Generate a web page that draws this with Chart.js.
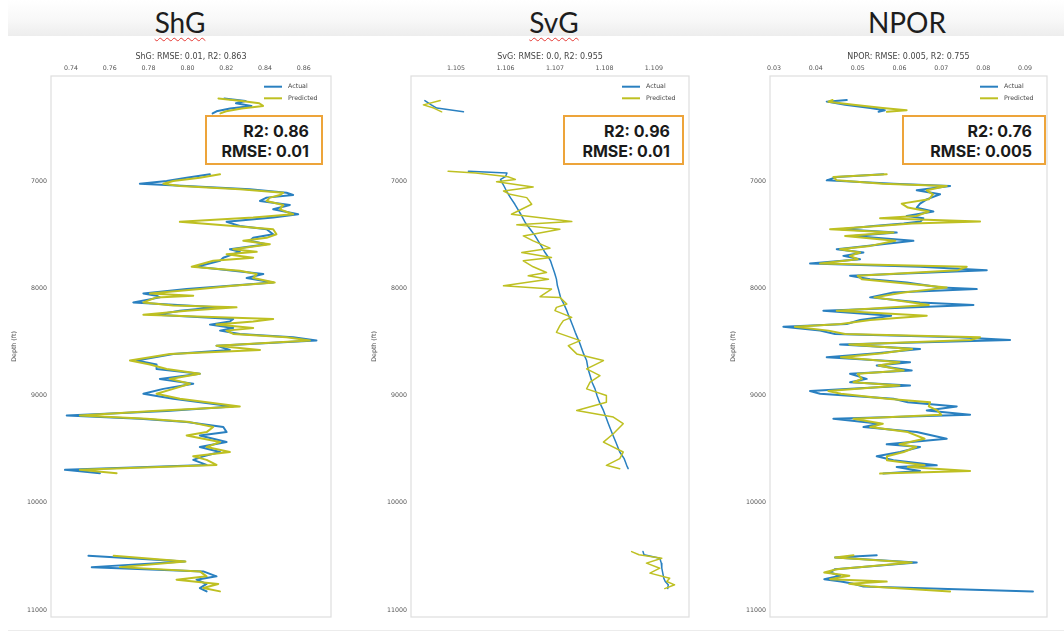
<!DOCTYPE html>
<html>
<head>
<meta charset="utf-8">
<title>ShG / SvG / NPOR – actual vs predicted</title>
<script src="https://cdn.jsdelivr.net/npm/chart.js@4.4.1/dist/chart.umd.min.js"></script>
<style>
  html, body { margin: 0; padding: 0; background: #fff; }
  body { width: 1064px; height: 632px; position: relative; overflow: hidden; font-family: 'DejaVu Sans', sans-serif; }
  .band { position: absolute; left: 8px; top: 0; width: 1056px; height: 36px;
          background: linear-gradient(#ffffff 0%, #f8f8f8 55%, #ededed 100%); }
  .head { position: absolute; top: 5px; font-family: Lato, 'Open Sans', sans-serif; font-size: 28px;
          line-height: 34px; color: #1d1d1d; transform: translateX(-50%); white-space: nowrap; }
  .wavy { text-decoration: underline wavy #e53935; text-decoration-thickness: 1px; text-underline-offset: 4px; }
  canvas { position: absolute; top: 40px; }
  .score { position: absolute; top: 115px; height: 50px; box-sizing: border-box; border: 2px solid #eda43a;
           background: #fff; padding: 4px 12px 0 0; text-align: right; font-family: Inter, sans-serif;
           font-weight: 700; font-size: 16px; line-height: 20px; color: #1a1a1a; }
  .foot { position: absolute; left: 8px; top: 630px; width: 1056px; height: 1px; background: #ececec; }
</style>
</head>
<body>
<div class="band"></div>
<div class="head" style="left:180px"><span class="wavy">ShG</span></div>
<div class="head" style="left:554px"><span class="wavy">SvG</span></div>
<div class="head" style="left:907px">NPOR</div>

<canvas id="shg" width="345" height="592" style="left:0px"></canvas>
<canvas id="svg" width="345" height="592" style="left:360px"></canvas>
<canvas id="npor" width="345" height="592" style="left:719px"></canvas>

<div class="score" style="left:205px;width:118px">R2: 0.86<br>RMSE: 0.01</div>
<div class="score" style="left:563px;width:121px">R2: 0.96<br>RMSE: 0.01</div>
<div class="score" style="left:902px;width:144px">R2: 0.76<br>RMSE: 0.005</div>
<div class="foot"></div>

<script>
// ---- ShG (shear gradient) log, depth in ft; null marks a gap in the log ----
const shgDepth = [
  6230, 6255, 6275, 6300, 6325, 6350, 6370, 6600,
  6938, 6969, 7000, 7025, 7047, 7078, 7109, 7130, 7155, 7186,
  7223, 7264, 7310, 7341, 7381, 7419, 7450, 7496, 7530, 7558,
  7589, 7636, 7660, 7682, 7715, 7744, 7800, 7837, 7868, 7905,
  7946, 7977, 8008, 8048, 8070, 8085, 8132, 8160, 8178, 8209,
  8246, 8287, 8310, 8339, 8370, 8395, 8426, 8457, 8488, 8535,
  8575, 8612, 8674, 8711, 8752, 8798, 8845, 8891, 8938, 8984,
  9031, 9102, 9145, 9186, 9217, 9248, 9294, 9341, 9372, 9434,
  9480, 9527, 9567, 9600, 9647, 9693, 9724, 10100,
  10495, 10548, 10600, 10640, 10686, 10717, 10757, 10795, 10826
];
const shgActual = [
  0.8190, 0.8300, 0.8250, 0.8330, 0.8220, 0.8150, 0.8130, null,
  0.8116, 0.7996, 0.7893, 0.7755, 0.7996, 0.8322, 0.8511, 0.8545, 0.8408, 0.8374,
  0.8528, 0.8442, 0.8571, 0.8442, 0.8202, 0.8270, 0.8408, 0.8442, 0.8339, 0.8322,
  0.8408, 0.8219, 0.8270, 0.8236, 0.8185, 0.8168, 0.8047, 0.8236, 0.8391, 0.8305,
  0.8442, 0.8219, 0.7996, 0.7773, 0.7841, 0.7858, 0.7721, 0.7996, 0.8150, 0.7961,
  0.7841, 0.8236, 0.8219, 0.8116, 0.8236, 0.8168, 0.8270, 0.8545, 0.8665, 0.8150,
  0.8219, 0.7927, 0.7738, 0.7841, 0.7841, 0.8064, 0.7858, 0.8030, 0.7876, 0.7773,
  0.7927, 0.8236, 0.7893, 0.7378, 0.7755, 0.7996, 0.8185, 0.8202, 0.8064, 0.8202,
  0.8064, 0.8168, 0.8082, 0.8030, 0.8099, 0.7369, 0.7549, null,
  0.7490, 0.7987, 0.7507, 0.8082, 0.8150, 0.8047, 0.8099, 0.8064, 0.8099
];
const shgPredicted = [
  0.8160, 0.8280, 0.8370, 0.8390, 0.8280, 0.8200, 0.8170, null,
  0.8168, 0.8064, 0.7927, 0.7876, 0.7961, 0.8270, 0.8494, 0.8477, 0.8425, 0.8408,
  0.8494, 0.8477, 0.8545, 0.8339, 0.7961, 0.8236, 0.8442, 0.8459, 0.8408, 0.8288,
  0.8425, 0.8236, 0.8357, 0.8202, 0.8339, 0.8133, 0.8022, 0.8270, 0.8357, 0.8339,
  0.8450, 0.8236, 0.8064, 0.7807, 0.8030, 0.7841, 0.7773, 0.7927, 0.8253, 0.7996,
  0.7773, 0.8442, 0.8339, 0.8150, 0.8339, 0.8202, 0.8236, 0.8511, 0.8631, 0.8150,
  0.8374, 0.7910, 0.7704, 0.7807, 0.7893, 0.8064, 0.7910, 0.8013, 0.7927, 0.7841,
  0.7961, 0.8270, 0.7824, 0.7446, 0.7790, 0.8013, 0.8133, 0.8099, 0.7996, 0.8168,
  0.8099, 0.8219, 0.8030, 0.8099, 0.8150, 0.7446, 0.7635, null,
  0.7620, 0.7990, 0.7652, 0.8064, 0.8099, 0.7944, 0.8159, 0.8082, 0.8168
];

// ---- SvG (vertical stress gradient) log ----
const svgDepth = [
  6250, 6290, 6320, 6355, 6600,
  6910, 6925, 6960, 6985, 7006, 7056, 7093, 7124, 7155, 7217,
  7310, 7378, 7409, 7450, 7512, 7558, 7626, 7667, 7713, 7744,
  7800, 7853, 7884, 7915, 7977, 8008, 8079, 8085, 8147, 8178,
  8209, 8271, 8302, 8349, 8411, 8488, 8535, 8612, 8674, 8752,
  8814, 8876, 8938, 9000, 9062, 9139, 9201, 9263, 9356, 9434,
  9527, 9589, 9651, 9682, 10100,
  10455, 10485, 10517, 10563, 10610, 10656, 10703, 10734, 10765, 10800
];
const svgActual = [
  1.10437, 1.10450, 1.10461, 1.10515, null,
  1.10525, 1.10603, 1.10600, 1.10590, 1.10592, 1.10598, 1.10602, 1.10606, 1.10610, 1.10619,
  1.10631, 1.10639, 1.10643, 1.10650, 1.10660, 1.10666, 1.10675, 1.10680, 1.10687, 1.10691,
  1.10695, 1.10699, 1.10701, 1.10703, 1.10705, 1.10707, 1.10711, 1.10711, 1.10718, 1.10721,
  1.10724, 1.10729, 1.10732, 1.10736, 1.10741, 1.10748, 1.10752, 1.10758, 1.10764, 1.10767,
  1.10771, 1.10775, 1.10781, 1.10785, 1.10790, 1.10798, 1.10803, 1.10808, 1.10816, 1.10823,
  1.10831, 1.10840, 1.10845, 1.10848, null,
  1.10878, 1.10880, 1.10912, 1.10915, 1.10916, 1.10918, 1.10920, 1.10923, 1.10929, 1.10928
];
const svgPredicted = [
  1.10468, 1.10434, 1.10455, 1.10471, null,
  1.10484, 1.10540, 1.10605, 1.10620, 1.10582, 1.10656, 1.10596, 1.10609, 1.10643, 1.10653,
  1.10612, 1.10734, 1.10623, 1.10710, 1.10636, 1.10656, 1.10690, 1.10633, 1.10693, 1.10636,
  1.10656, 1.10683, 1.10646, 1.10687, 1.10596, 1.10693, 1.10670, 1.10710, 1.10724, 1.10703,
  1.10700, 1.10734, 1.10717, 1.10710, 1.10703, 1.10751, 1.10727, 1.10744, 1.10798, 1.10764,
  1.10791, 1.10771, 1.10764, 1.10804, 1.10804, 1.10744, 1.10818, 1.10838, 1.10818, 1.10798,
  1.10838, 1.10831, 1.10804, 1.10831, null,
  1.10855, 1.10870, 1.10916, 1.10885, 1.10912, 1.10892, 1.10932, 1.10926, 1.10942, 1.10922
];

// ---- NPOR (neutron porosity) log ----
const nporDepth = [
  6245, 6260, 6290, 6320, 6340, 6355, 6600,
  6938, 6963, 6994, 7025, 7047, 7087, 7124, 7171, 7211, 7248,
  7285, 7326, 7347, 7378, 7397, 7419, 7450, 7481, 7512, 7558,
  7605, 7636, 7667, 7698, 7729, 7769, 7800, 7831, 7884, 7915,
  7946, 7992, 8008, 8039, 8085, 8132, 8156, 8209, 8256, 8296,
  8333, 8358, 8395, 8426, 8457, 8482, 8525, 8566, 8606, 8643,
  8690, 8721, 8767, 8798, 8845, 8876, 8907, 8959, 8984, 9031,
  9062, 9102, 9139, 9179, 9217, 9263, 9294, 9341, 9403, 9455,
  9480, 9527, 9567, 9604, 9651, 9666, 9703, 9728, 10100,
  10490, 10510, 10557, 10619, 10650, 10681, 10712, 10735, 10756, 10780, 10827
];
const nporActual = [
  0.04740, 0.04260, 0.04700, 0.05300, 0.05650, 0.05500, null,
  0.05615, 0.04500, 0.04260, 0.05854, 0.07209, 0.06412, 0.06970, 0.06651, 0.06491, 0.06412,
  0.06810, 0.06173, 0.06570, 0.06500, 0.06100, 0.05376, 0.04600, 0.05933, 0.04897, 0.06332,
  0.05216, 0.04499, 0.05137, 0.04658, 0.05057, 0.03861, 0.06491, 0.08086, 0.04818, 0.05296,
  0.06173, 0.07000, 0.07846, 0.05854, 0.05296, 0.06491, 0.07767, 0.04180, 0.05800, 0.05057,
  0.04738, 0.03224, 0.04101, 0.04459, 0.07400, 0.08643, 0.04579, 0.06491, 0.05455, 0.04260,
  0.06252, 0.05455, 0.06292, 0.04818, 0.05216, 0.04818, 0.06252, 0.03861, 0.04101, 0.05854,
  0.06200, 0.07368, 0.06651, 0.07687, 0.04419, 0.05535, 0.05137, 0.06412, 0.07129, 0.05694,
  0.06491, 0.06013, 0.05455, 0.05854, 0.06890, 0.05933, 0.06491, 0.05615, null,
  0.05455, 0.04459, 0.06412, 0.04459, 0.04340, 0.04579, 0.04200, 0.04600, 0.04897, 0.05137, 0.09190
];
const nporPredicted = [
  0.04400, 0.04300, 0.04900, 0.05600, 0.06170, 0.05700, null,
  0.05694, 0.04419, 0.04500, 0.05600, 0.07129, 0.06650, 0.06800, 0.06700, 0.06053, 0.06200,
  0.06700, 0.06400, 0.05535, 0.07926, 0.06300, 0.05500, 0.04340, 0.05854, 0.04700, 0.05900,
  0.05300, 0.04579, 0.05057, 0.04818, 0.05000, 0.04100, 0.07607, 0.07400, 0.05000, 0.05100,
  0.05900, 0.07129, 0.06800, 0.06100, 0.05400, 0.06300, 0.06700, 0.04500, 0.06651, 0.05300,
  0.04600, 0.03500, 0.04300, 0.04700, 0.07926, 0.07700, 0.04800, 0.06300, 0.05600, 0.04600,
  0.06000, 0.05500, 0.06100, 0.05000, 0.05100, 0.04900, 0.06000, 0.04300, 0.04600, 0.05700,
  0.06731, 0.06700, 0.06900, 0.07000, 0.04900, 0.05600, 0.05300, 0.06200, 0.06600, 0.06000,
  0.06400, 0.06100, 0.05700, 0.05700, 0.06600, 0.06200, 0.07687, 0.05535, null,
  0.04900, 0.04459, 0.06292, 0.04500, 0.04200, 0.04800, 0.04340, 0.05694, 0.04800, 0.05300, 0.07209
];

// Depth axis (shared by all three tracks)
const depthTicks = [7000, 8000, 9000, 10000, 11000];
const seriesNames = ['Actual', 'Predicted'];

const BLUE = '#2a80c0';
const OLIVE = '#bec022';

Chart.defaults.font.family = "'DejaVu Sans', sans-serif";

// Light frame around the plot area plus a small key in its upper-right corner
const frameAndKey = {
  id: 'frameAndKey',
  afterDatasetsDraw(chart) {
    const { ctx, chartArea: a } = chart;
    ctx.save();
    ctx.strokeStyle = '#dedede';
    ctx.lineWidth = 1.2;
    ctx.strokeRect(a.left, a.top, a.right - a.left, a.bottom - a.top);
    ctx.font = "6.3px 'DejaVu Sans'";
    ctx.textBaseline = 'middle';
    chart.data.datasets.forEach((ds, i) => {
      const y = a.top + 10.7 + i * 11.6;
      ctx.strokeStyle = ds.borderColor;
      ctx.lineWidth = 2;
      ctx.beginPath();
      ctx.moveTo(a.right - 67, y);
      ctx.lineTo(a.right - 49, y);
      ctx.stroke();
      ctx.fillStyle = '#444';
      ctx.fillText(ds.label, a.right - 43, y);
    });
    ctx.restore();
  }
};

function points(depths, values) {
  return depths.map((d, i) => ({ x: values[i], y: d }));
}

function drawTrack(id, t) {
  const line = {
    showLine: true, pointRadius: 0, pointHoverRadius: 0, spanGaps: false,
    borderJoinStyle: 'round', borderCapStyle: 'round', borderWidth: t.width
  };
  new Chart(document.getElementById(id), {
    type: 'scatter',
    data: {
      datasets: [
        Object.assign({ label: seriesNames[0], data: points(t.depth, t.actual),
          borderColor: BLUE, backgroundColor: BLUE, order: 1 }, line),
        Object.assign({ label: seriesNames[1], data: points(t.depth, t.predicted),
          borderColor: OLIVE, backgroundColor: OLIVE, order: 0 }, line)
      ]
    },
    options: {
      responsive: false,
      animation: false,
      events: [],
      layout: { padding: { left: 0, top: 0, right: t.padRight, bottom: 15 } },
      plugins: { legend: { display: false }, title: { display: false }, tooltip: { enabled: false } },
      scales: {
        x: {
          type: 'linear', position: 'top', min: t.min, max: t.max,
          grid: { display: false, drawTicks: false }, border: { display: false },
          ticks: { stepSize: t.step, includeBounds: false, padding: 3.6, color: '#555',
                   font: { size: 6.3 }, maxRotation: 0, autoSkip: false,
                   callback: v => Number(v).toFixed(t.decimals) },
          title: { display: true, text: t.title, color: '#444', font: { size: 8 },
                   padding: { top: 12.2, bottom: 0 } },
          afterFit(s) { s.height = 36; }
        },
        y: {
          type: 'linear', reverse: true, min: 6021, max: 11065,
          grid: { display: false, drawTicks: false }, border: { display: false },
          afterBuildTicks(s) { s.ticks = depthTicks.map(v => ({ value: v })); },
          ticks: { padding: 4, color: '#555', font: { size: 6.3 }, callback: v => String(v) },
          title: { display: true, text: 'Depth (ft)', color: '#555', font: { size: 6.3 },
                   padding: { top: 11, bottom: 0 } },
          afterFit(s) { s.width = 51; }
        }
      }
    },
    plugins: [frameAndKey]
  });
}

drawTrack('shg', {
  depth: shgDepth, actual: shgActual, predicted: shgPredicted,
  min: 0.7297, max: 0.8740, step: 0.02, decimals: 2, width: 2,
  title: 'ShG: RMSE: 0.01, R2: 0.863', padRight: 14
});
drawTrack('svg', {
  depth: svgDepth, actual: svgActual, predicted: svgPredicted,
  min: 1.10409, max: 1.10971, step: 0.001, decimals: 3, width: 1.5,
  title: 'SvG: RMSE: 0.0, R2: 0.955', padRight: 16
});
drawTrack('npor', {
  depth: nporDepth, actual: nporActual, predicted: nporPredicted,
  min: 0.02904, max: 0.09526, step: 0.01, decimals: 2, width: 2,
  title: 'NPOR: RMSE: 0.005, R2: 0.755', padRight: 17
});
</script>
</body>
</html>
